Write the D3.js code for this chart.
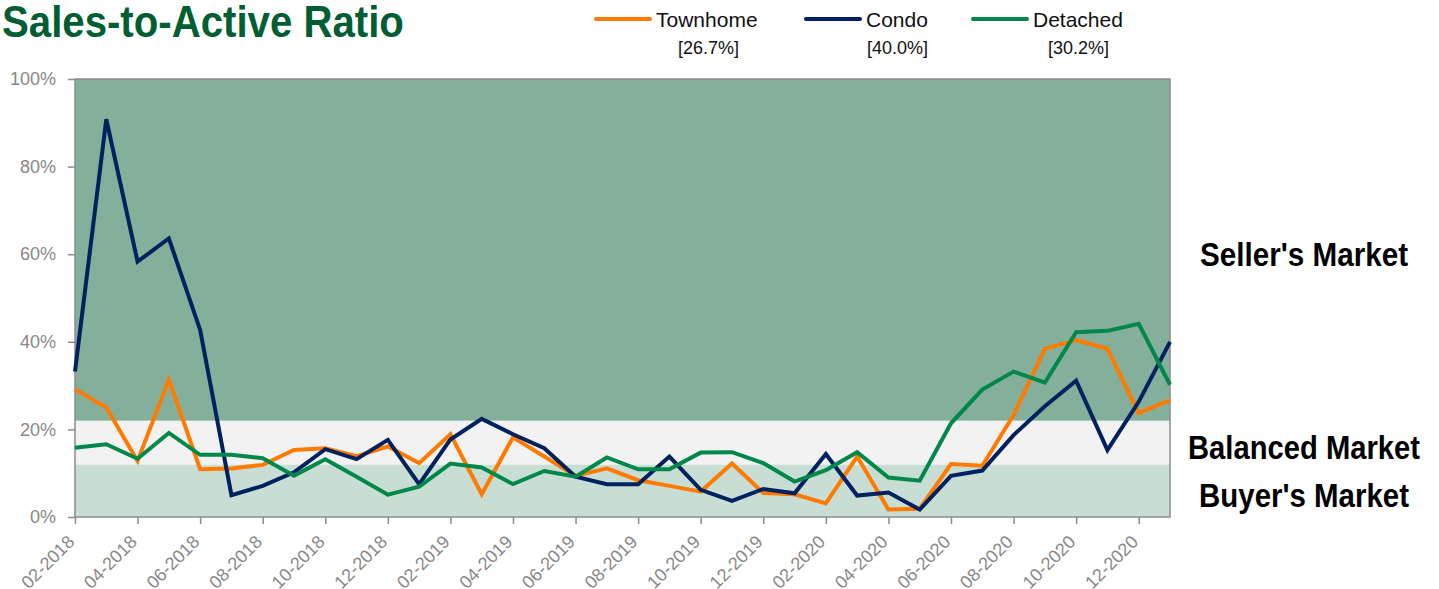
<!DOCTYPE html>
<html>
<head>
<meta charset="utf-8">
<script src="https://cdn.jsdelivr.net/npm/d3@7"></script>
<style>
    body { margin: 0; background: #ffffff; }
    svg { display: block; font-family: "Liberation Sans", Arial, sans-serif; }
</style>
</head>
<body>
<svg id="chart" width="1439" height="589"></svg>
<script>
// months on the x-axis
var months = [
    "02-2018", "03-2018", "04-2018", "05-2018", "06-2018", "07-2018", "08-2018", "09-2018", "10-2018", "11-2018", "12-2018", "01-2019",
    "02-2019", "03-2019", "04-2019", "05-2019", "06-2019", "07-2019", "08-2019", "09-2019", "10-2019", "11-2019", "12-2019", "01-2020",
    "02-2020", "03-2020", "04-2020", "05-2020", "06-2020", "07-2020", "08-2020", "09-2020", "10-2020", "11-2020", "12-2020", "01-2021"
];

// sales-to-active ratio in percent
var townhome = [29.2, 25.0, 12.8, 31.4, 10.9, 11.1, 11.9, 15.3, 15.7, 13.9, 16.1, 12.3,
    18.9, 5.2, 18.2, 13.8, 9.4, 11.1, 8.4, 7.1, 5.8, 12.2, 5.5, 5.2,
    3.1, 13.8, 1.7, 1.9, 12.1, 11.7, 23.3, 38.4, 40.4, 38.4, 23.7, 26.7];
var condo = [33.2, 90.8, 58.3, 63.6, 42.7, 5.0, 7.1, 10.2, 15.5, 13.2, 17.6, 7.5,
    17.7, 22.4, 18.9, 15.7, 9.2, 7.5, 7.5, 13.8, 6.2, 3.7, 6.4, 5.4,
    14.4, 4.9, 5.6, 1.7, 9.4, 10.6, 18.7, 25.3, 31.1, 15.3, 26.3, 40.0];
var detached = [15.8, 16.6, 13.3, 19.2, 14.2, 14.2, 13.4, 9.4, 13.2, 9.2, 5.1, 6.9,
    12.2, 11.3, 7.5, 10.5, 9.2, 13.6, 10.9, 10.9, 14.7, 14.8, 12.3, 8.1,
    10.7, 14.8, 9.0, 8.3, 21.4, 29.1, 33.2, 30.7, 42.2, 42.5, 44.1, 30.2];

var seriesNames = ["Townhome", "Condo", "Detached"];
var seriesValues = [townhome, condo, detached];
var latestLabels = ["[26.7%]", "[40.0%]", "[30.2%]"];

// market bands (percent)
var bandNames = ["Buyer's Market", "Balanced Market", "Seller's Market"];
var bandLow = [0, 12, 22];
var bandHigh = [12, 22, 100];

var yTicks = [0, 20, 40, 60, 80, 100];

drawChart();

function drawChart() {
    var svg = d3.select("#chart");
    var left = 75, right = 1170, top = 79, bottom = 517;

    var seriesColors = ["#ff7b00", "#00215f", "#00884a"];
    var bandColors = ["#c8ded4", "#f2f2f2", "#84b09b"];

    var x = d3.scalePoint().domain(months).range([left, right]);
    var y = d3.scaleLinear().domain([0, 100]).range([bottom, top]);

    // title, squeezed to look like a condensed face
    var title = svg.append("text")
        .attr("x", 0)
        .attr("y", 0)
        .style("font-weight", "bold")
        .style("font-size", "44px")
        .style("fill", "#015e32")
        .text("Sales-to-Active Ratio");
    squeeze(title, 2, 37, 402);

    // market bands
    svg.selectAll(".band")
        .data(bandNames)
        .enter().append("rect")
        .attr("class", "band")
        .attr("x", left)
        .attr("width", right - left)
        .attr("y", function(d, i) { return y(bandHigh[i]); })
        .attr("height", function(d, i) { return y(bandLow[i]) - y(bandHigh[i]); })
        .style("fill", function(d, i) { return bandColors[i]; });

    // band labels on the right
    var bandWidths = [210, 232, 208];
    bandNames.forEach(function(name, i) {
        var t = svg.append("text")
            .attr("x", 0)
            .attr("y", 0)
            .attr("text-anchor", "middle")
            .style("font-weight", "bold")
            .style("font-size", "33px")
            .style("fill", "#000000")
            .text(name);
        squeeze(t, 1304, y((bandLow[i] + bandHigh[i]) / 2) + 16, bandWidths[i]);
    });

    // plot frame
    svg.append("rect")
        .attr("x", left)
        .attr("y", top)
        .attr("width", right - left)
        .attr("height", bottom - top)
        .style("fill", "none")
        .style("stroke", "#8c8c8c")
        .style("stroke-width", 1.5);

    // series lines
    var line = d3.line()
        .x(function(d, i) { return x(months[i]); })
        .y(function(d) { return y(d); });

    svg.selectAll(".series")
        .data(seriesValues)
        .enter().append("path")
        .attr("class", "series")
        .attr("d", line)
        .style("fill", "none")
        .style("stroke", function(d, i) { return seriesColors[i]; })
        .style("stroke-width", 4)
        .style("stroke-linejoin", "miter");

    // y axis
    var yAxis = svg.append("g")
        .attr("transform", "translate(" + left + ",0)")
        .call(d3.axisLeft(y).tickValues(yTicks).tickSize(7).tickSizeOuter(0).tickPadding(12)
            .tickFormat(function(d) { return d + "%"; }));
    styleAxis(yAxis);

    // x axis
    var xAxis = svg.append("g")
        .attr("transform", "translate(0," + bottom + ")")
        .call(d3.axisBottom(x).tickValues(months.filter(function(d, i) { return i % 2 === 0; }))
            .tickSize(7).tickSizeOuter(0));
    styleAxis(xAxis);
    xAxis.selectAll("text")
        .attr("x", 0)
        .attr("y", 0)
        .attr("dy", 0)
        .attr("transform", "translate(0,26) rotate(-45)")
        .style("text-anchor", "end");

    // legend
    var legendX = [596, 806, 973];
    var legendLabelX = [678, 867, 1048];
    seriesNames.forEach(function(name, i) {
        svg.append("line")
            .attr("x1", legendX[i])
            .attr("x2", legendX[i] + 54)
            .attr("y1", 19)
            .attr("y2", 19)
            .style("stroke", seriesColors[i])
            .style("stroke-width", 4)
            .style("stroke-linecap", "round");
        svg.append("text")
            .attr("x", legendX[i] + 60)
            .attr("y", 27)
            .style("font-size", "21px")
            .style("fill", "#111111")
            .text(name);
        svg.append("text")
            .attr("x", legendLabelX[i])
            .attr("y", 54)
            .style("font-size", "18px")
            .style("fill", "#111111")
            .text(latestLabels[i]);
    });
}

// scale a text horizontally so it spans the wanted width
function squeeze(t, tx, ty, width) {
    var w = t.node().getComputedTextLength();
    var s = w > 0 ? width / w : 1;
    t.attr("transform", "translate(" + tx + "," + ty + ") scale(" + s + ",1)");
}

function styleAxis(g) {
    g.select(".domain").remove();
    g.selectAll(".tick line").style("stroke", "#8c8c8c").style("stroke-width", 1.5);
    g.selectAll(".tick text")
        .style("font-size", "18px")
        .style("fill", "#888888");
}
</script>
</body>
</html>
